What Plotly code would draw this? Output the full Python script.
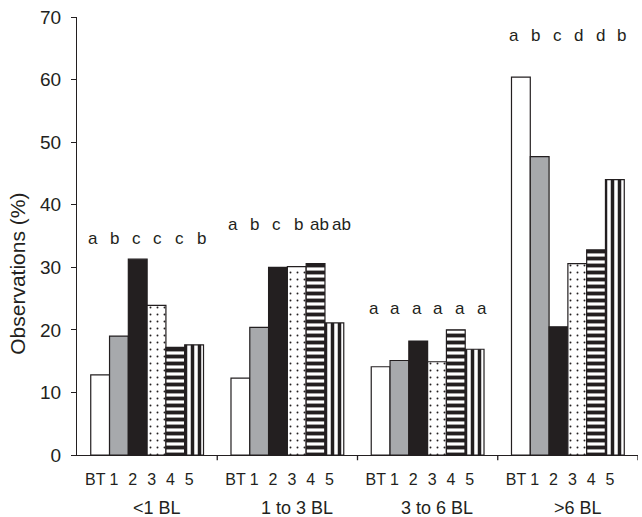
import plotly.graph_objects as go

# ---- data ----
groups = ["<1 BL", "1 to 3 BL", "3 to 6 BL", ">6 BL"]
bar_labels = ["BT", "1", "2", "3", "4", "5"]
val_BT = [12.8, 12.3, 14.1, 60.4]
val_1 = [19.0, 20.4, 15.1, 47.7]
val_2 = [31.3, 30.0, 18.2, 20.5]
val_3 = [23.9, 30.1, 14.9, 30.6]
val_4 = [17.2, 30.6, 20.0, 32.8]
val_5 = [17.6, 21.1, 16.9, 44.0]
letters_g1 = ["a", "b", "c", "c", "c", "b"]
letters_g2 = ["a", "b", "c", "b", "ab", "ab"]
letters_g3 = ["a", "a", "a", "a", "a", "a"]
letters_g4 = ["a", "b", "c", "d", "d", "b"]
letter_levels = [34.6, 36.8, 23.4, 67.0]

series = [val_BT, val_1, val_2, val_3, val_4, val_5]
letters = [letters_g1, letters_g2, letters_g3, letters_g4]

INK = "#231f20"
FONT = "Liberation Sans, Arial, Helvetica, sans-serif"
BW = 0.134  # bar width in group units

styles = [
    dict(color="white"),
    dict(color="#a7a9ac"),
    dict(color=INK),
    dict(color="white", pattern=dict(shape=".", fgcolor=INK, bgcolor="white", size=7, solidity=0.06, fgopacity=1, fillmode="overlay")),
    dict(color="white", pattern=dict(shape="-", fgcolor=INK, bgcolor="white", size=7, solidity=0.55, fgopacity=1, fillmode="overlay")),
    dict(color="white", pattern=dict(shape="|", fgcolor=INK, bgcolor="white", size=7, solidity=0.5, fgopacity=1, fillmode="overlay")),
]

def bar_x(g, i):
    return g + 0.5 + (i - 2.5) * BW

fig = go.Figure()
for i, (name, vals) in enumerate(zip(bar_labels, series)):
    st = styles[i]
    marker = dict(color=st["color"], line=dict(color=INK, width=1.2))
    if "pattern" in st:
        marker["pattern"] = st["pattern"]
    fig.add_trace(go.Bar(
        x=[bar_x(g, i) for g in range(len(groups))],
        y=vals, width=BW, name=name, marker=marker, showlegend=False,
    ))

annotations = []
# significance letters
for g, (lets, lvl) in enumerate(zip(letters, letter_levels)):
    for i, t in enumerate(lets):
        annotations.append(dict(
            x=g + 0.5 + (i - 2.5) * BW * 1.15, y=lvl, xref="x", yref="y",
            text=t, showarrow=False, xanchor="center", yanchor="middle",
            font=dict(family=FONT, size=17, color=INK)))
# group labels
for g, name in enumerate(groups):
    annotations.append(dict(
        x=g + 0.57, y=-0.121, xref="x", yref="paper", text=name,
        showarrow=False, xanchor="center", yanchor="middle",
        font=dict(family=FONT, size=18, color=INK)))
# y title
annotations.append(dict(
    x=-0.105, y=0.414, xref="paper", yref="paper", text="Observations (%)",
    textangle=-90, showarrow=False, xanchor="center", yanchor="middle",
    font=dict(family=FONT, size=21, color=INK)))

shapes = []
for b in range(1, len(groups) + 1):
    shapes.append(dict(type="line", xref="x", yref="paper", x0=b, x1=b,
                       y0=0, y1=-0.012, line=dict(color=INK, width=1.3)))

tickvals = []
ticktext = []
for g in range(len(groups)):
    for i, lab in enumerate(bar_labels):
        tickvals.append(bar_x(g, i) - 0.035)
        ticktext.append(lab)

fig.update_layout(
    width=642, height=517,
    margin=dict(l=77, r=4, t=17, b=62),
    paper_bgcolor="white", plot_bgcolor="white",
    barmode="overlay",
    xaxis=dict(range=[0, 4], showgrid=False, zeroline=False, showline=True,
               linecolor=INK, linewidth=1.3, ticks="", tickvals=tickvals,
               ticktext=ticktext, ticklabelstandoff=10,
               tickfont=dict(family=FONT, size=16, color=INK)),
    yaxis=dict(range=[0, 70], dtick=10, showgrid=False, zeroline=False,
               showline=True, linecolor=INK, linewidth=1.3, ticks="outside",
               ticklen=5, tickcolor=INK, tickwidth=1.3, ticklabelstandoff=6,
               tickfont=dict(family=FONT, size=19, color=INK)),
    annotations=annotations, shapes=shapes,
)

fig.write_html("out.html", config={"displayModeBar": False},
               post_script="document.body.style.margin='0';")
